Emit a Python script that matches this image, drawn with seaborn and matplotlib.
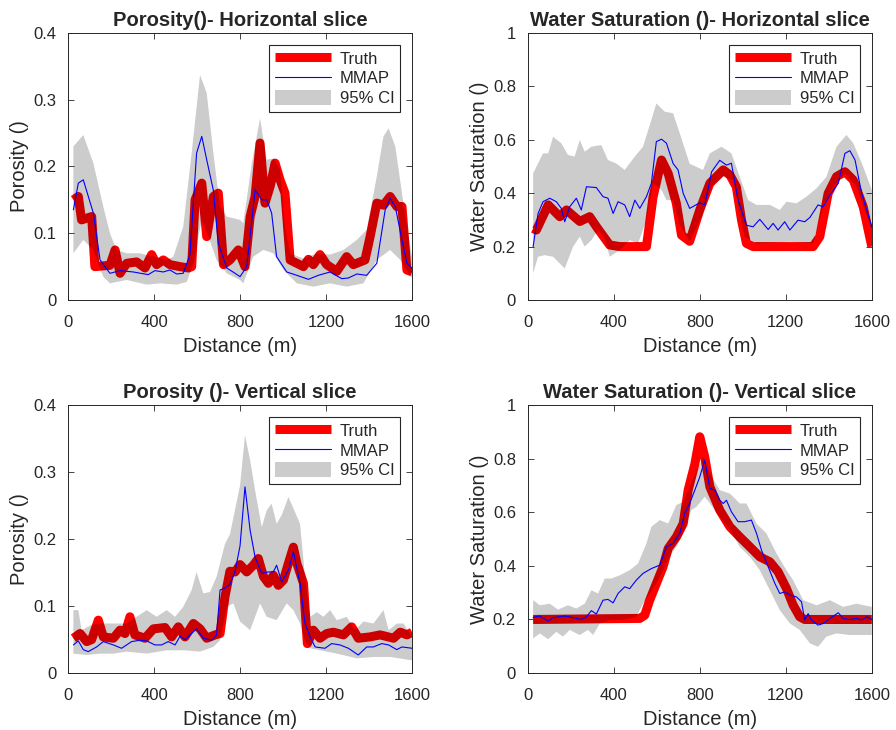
import numpy as np
import pandas as pd
import seaborn as sns
import matplotlib.pyplot as plt
from matplotlib.lines import Line2D
from matplotlib.patches import Patch
from matplotlib.ticker import FuncFormatter

# ---- Porosity, horizontal slice ----
por_h_truth_x = [25, 48, 63, 110, 125, 195, 219, 242, 273, 319, 358, 389, 412, 443, 474, 521, 560, 575, 591, 622,
                 645, 676, 699, 723, 753, 792, 823, 847, 870, 893, 916, 940, 963, 986, 1009, 1033, 1064, 1095, 1118,
                 1141, 1172, 1203, 1250, 1296, 1327, 1381, 1405, 1436, 1467, 1498, 1529, 1553, 1576, 1600]
por_h_truth_y = [.15, .155, .12, .125, .05, .052, .075, .04, .055, .057, .048, .068, .053, .06, .053, .05, .048, .05,
                 .15, .175, .095, .155, .16, .053, .06, .075, .05, .125, .155, .235, .145, .17, .205, .18, .16, .06,
                 .055, .05, .061, .053, .068, .053, .043, .065, .053, .06, .095, .145, .142, .155, .14, .14, .045, .042]
por_h_mmap_x = [25, 48, 71, 118, 149, 195, 242, 304, 373, 404, 443, 474, 505, 536, 567, 598, 622, 645, 676, 699,
                738, 777, 800, 831, 870, 901, 924, 947, 970, 1017, 1064, 1118, 1164, 1219, 1273, 1304, 1343, 1389,
                1436, 1475, 1498, 1522, 1553, 1576, 1600]
por_h_mmap_y = [.135, .175, .18, .13, .06, .04, .044, .042, .038, .044, .042, .045, .039, .04, .068, .22, .245, .21,
                .164, .085, .048, .04, .035, .05, .165, .15, .15, .13, .065, .042, .037, .031, .037, .042, .032, .033,
                .039, .037, .055, .135, .152, .14, .09, .055, .047]
por_h_up_x = [25, 71, 118, 164, 195, 226, 273, 335, 397, 459, 490, 536, 575, 614, 645, 676, 707, 738, 800, 815,
              855, 893, 924, 955, 986, 1009, 1033, 1095, 1157, 1219, 1281, 1343, 1389, 1436, 1467, 1491, 1522, 1553,
              1576, 1600]
por_h_up_y = [.23, .247, .205, .14, .1, .075, .07, .07, .065, .06, .065, .11, .22, .337, .31, .22, .14, .125, .12,
              .115, .205, .272, .21, .212, .195, .11, .07, .062, .07, .068, .075, .09, .105, .185, .245, .257, .23,
              .16, .11, .065]
por_h_lo_x = [25, 71, 118, 164, 195, 273, 366, 428, 505, 552, 583, 622, 653, 691, 738, 800, 815, 862, 908, 955,
              1002, 1064, 1141, 1219, 1296, 1374, 1436, 1498, 1545, 1600]
por_h_lo_y = [.07, .09, .075, .035, .025, .03, .023, .025, .023, .027, .055, .12, .095, .06, .04, .03, .025, .065,
              .075, .07, .045, .025, .02, .025, .02, .025, .06, .075, .06, .033]

# ---- Water saturation, horizontal slice ----
sw_h_truth_x = [25, 40, 95, 149, 180, 242, 288, 319, 381, 428, 505, 552, 583, 622, 653, 691, 715, 753, 800, 847,
                909, 940, 970, 994, 1017, 1048, 1141, 1219, 1327, 1358, 1397, 1436, 1475, 1514, 1560, 1600]
sw_h_truth_y = [.268, .262, .356, .312, .337, .294, .312, .275, .206, .2, .2, .2, .387, .524, .474, .362, .243, .22,
                .337, .437, .487, .468, .424, .3, .212, .2, .2, .2, .2, .237, .399, .462, .48, .449, .349, .2]
sw_h_mmap_x = [25, 48, 71, 102, 133, 156, 172, 195, 226, 249, 273, 319, 350, 373, 397, 420, 451, 474, 498, 521,
               552, 575, 598, 622, 645, 676, 699, 723, 753, 800, 823, 855, 893, 924, 947, 978, 1017, 1048, 1079,
               1118, 1141, 1164, 1195, 1219, 1257, 1288, 1312, 1350, 1374, 1405, 1444, 1475, 1498, 1522, 1553, 1600]
sw_h_mmap_y = [.2, .324, .368, .381, .368, .343, .293, .349, .381, .337, .424, .421, .387, .381, .324, .368, .356,
               .312, .374, .343, .387, .437, .593, .602, .587, .511, .487, .399, .343, .364, .356, .48, .523, .505,
               .512, .374, .28, .274, .302, .264, .287, .262, .293, .262, .299, .293, .309, .356, .349, .393, .437,
               .549, .559, .524, .399, .274]
sw_h_up_x = [25, 71, 95, 118, 156, 187, 218, 242, 265, 296, 342, 373, 412, 451, 498, 536, 575, 598, 637, 676, 707,
             753, 815, 847, 901, 947, 986, 1025, 1064, 1126, 1172, 1203, 1250, 1296, 1343, 1389, 1436, 1482, 1514,
             1560, 1600]
sw_h_up_y = [.474, .549, .549, .611, .587, .543, .537, .599, .555, .574, .58, .524, .511, .487, .537, .574, .674,
             .736, .705, .699, .624, .51, .487, .549, .574, .549, .461, .374, .356, .356, .337, .368, .362, .387,
             .418, .461, .574, .618, .587, .499, .412]
sw_h_lo_x = [25, 48, 78, 118, 172, 211, 242, 265, 296, 327, 358, 381, 428, 474, 513, 552, 583, 622, 645, 676, 707,
             753, 815, 855, 909, 955, 986, 1009, 1064, 1219, 1327, 1374, 1420, 1475, 1529, 1600]
sw_h_lo_y = [.1, .162, .168, .162, .118, .2, .237, .2, .224, .262, .231, .162, .187, .224, .212, .299, .437, .412,
             .374, .374, .28, .22, .324, .424, .461, .449, .324, .237, .212, .218, .212, .349, .424, .474, .424, .262]

# ---- Porosity, vertical slice ----
por_v_truth_x = [25, 56, 87, 110, 141, 164, 211, 242, 265, 288, 311, 358, 397, 451, 482, 513, 544, 583, 614, 645,
                 684, 707, 730, 753, 777, 800, 831, 862, 885, 909, 932, 955, 978, 1002, 1025, 1048, 1064, 1095, 1113,
                 1141, 1172, 1203, 1234, 1281, 1319, 1350, 1405, 1451, 1514, 1545, 1576, 1600]
por_v_truth_y = [.052, .059, .047, .05, .079, .054, .052, .064, .059, .084, .057, .052, .066, .068, .054, .069, .054,
                 .074, .066, .052, .057, .059, .114, .152, .151, .162, .151, .161, .171, .144, .134, .146, .131, .139,
                 .164, .188, .164, .134, .044, .064, .052, .059, .061, .057, .069, .052, .054, .057, .052, .061, .057,
                 .061]
por_v_mmap_x = [25, 48, 71, 94, 133, 164, 211, 249, 296, 335, 366, 404, 435, 466, 498, 521, 544, 598, 629, 668, 691,
                707, 723, 753, 777, 800, 823, 847, 870, 901, 932, 955, 970, 994, 1025, 1048, 1079, 1102, 1126, 1149,
                1195, 1226, 1265, 1304, 1350, 1389, 1420, 1459, 1491, 1529, 1553, 1600]
por_v_mmap_y = [.042, .048, .035, .032, .039, .047, .042, .037, .047, .049, .048, .042, .042, .047, .042, .055, .05,
                .066, .052, .049, .057, .124, .126, .132, .152, .19, .278, .213, .173, .149, .151, .151, .161, .136,
                .154, .181, .134, .074, .054, .039, .037, .044, .042, .037, .027, .039, .039, .044, .042, .035, .039,
                .037]
por_v_up_x = [25, 48, 63, 110, 156, 211, 273, 319, 366, 412, 459, 498, 536, 575, 598, 629, 660, 691, 730, 753, 800,
              823, 847, 870, 901, 924, 947, 970, 994, 1025, 1048, 1079, 1102, 1126, 1157, 1188, 1219, 1250, 1296,
              1335, 1374, 1420, 1467, 1491, 1529, 1560, 1600]
por_v_up_y = [.094, .094, .064, .072, .074, .074, .074, .084, .094, .084, .094, .084, .099, .124, .151, .119, .121,
              .144, .193, .207, .28, .355, .318, .273, .218, .243, .253, .223, .236, .263, .246, .223, .144, .084,
              .091, .084, .094, .079, .084, .064, .077, .074, .094, .064, .074, .074, .054]
por_v_lo_x = [25, 87, 149, 211, 273, 366, 459, 536, 614, 676, 707, 738, 769, 800, 847, 893, 924, 970, 1017, 1048,
              1079, 1102, 1126, 1172, 1250, 1343, 1420, 1498, 1600]
por_v_lo_y = [.029, .027, .029, .029, .032, .029, .034, .034, .032, .039, .049, .099, .104, .077, .064, .104, .084,
              .079, .104, .094, .074, .049, .037, .034, .029, .022, .024, .024, .019]

# ---- Water saturation, vertical slice ----
sw_v_truth_x = [25, 521, 544, 567, 598, 629, 653, 691, 723, 746, 777, 800, 823, 847, 893, 940, 986, 1033, 1079,
                1126, 1164, 1203, 1234, 1265, 1288, 1600]
sw_v_truth_y = [.2, .204, .216, .272, .334, .396, .465, .508, .558, .683, .78, .882, .807, .695, .608, .546, .508,
                .471, .434, .415, .378, .316, .254, .21, .2, .2]
sw_v_mmap_x = [25, 56, 95, 118, 172, 211, 249, 273, 296, 319, 350, 373, 397, 420, 451, 474, 505, 536, 575, 614,
               645, 676, 707, 730, 753, 777, 800, 823, 847, 870, 893, 909, 924, 947, 978, 1009, 1040, 1064, 1087,
               1118, 1149, 1172, 1195, 1219, 1250, 1273, 1288, 1304, 1319, 1350, 1374, 1405, 1444, 1467, 1498,
               1529, 1553, 1576, 1600]
sw_v_mmap_y = [.208, .213, .194, .207, .213, .207, .2, .21, .233, .22, .272, .275, .262, .297, .322, .315, .347,
               .372, .39, .403, .471, .484, .521, .596, .633, .683, .732, .795, .689, .683, .645, .633, .645, .602,
               .565, .565, .571, .521, .459, .397, .335, .297, .303, .291, .284, .266, .198, .222, .198, .179, .185,
               .204, .225, .204, .2, .204, .198, .21, .2]
sw_v_up_x = [25, 56, 102, 141, 187, 226, 265, 296, 327, 358, 389, 428, 474, 513, 552, 575, 614, 653, 691, 723, 753,
             815, 847, 893, 940, 986, 1017, 1064, 1110, 1157, 1203, 1234, 1281, 1343, 1405, 1467, 1529, 1600]
sw_v_up_y = [.272, .253, .259, .237, .253, .241, .259, .309, .297, .353, .353, .365, .384, .409, .484, .546, .571,
             .558, .627, .639, .695, .807, .745, .683, .67, .633, .633, .558, .521, .446, .384, .347, .272, .253,
             .272, .247, .259, .247]
sw_v_lo_x = [25, 56, 95, 133, 164, 195, 242, 280, 304, 335, 381, 443, 505, 536, 567, 598, 629, 660, 691, 723, 761,
             784, 823, 847, 893, 940, 986, 1033, 1079, 1126, 1172, 1219, 1265, 1312, 1350, 1389, 1436, 1498, 1600]
sw_v_lo_y = [.129, .148, .126, .154, .136, .161, .142, .161, .142, .185, .198, .198, .21, .259, .297, .334, .384,
             .434, .471, .521, .608, .62, .658, .633, .583, .534, .471, .434, .384, .309, .235, .185, .161, .111,
             .098, .136, .148, .142, .142]

x_ticks = [0, 400, 800, 1200, 1600]
por_ticks = [0, 0.1, 0.2, 0.3, 0.4]
sw_ticks = [0, 0.2, 0.4, 0.6, 0.8, 1.0]

sns.set_style('ticks')
plt.rcParams['font.family'] = ['Liberation Sans', 'DejaVu Sans']
DARK = '#262626'


def draw_panel(ax, truth, mmap, upper, lower, title, ylabel, yticks):
    t = pd.DataFrame({'x': truth[0], 'y': truth[1]})
    m = pd.DataFrame({'x': mmap[0], 'y': mmap[1]})
    sns.lineplot(data=t, x='x', y='y', ax=ax, color='red', linewidth=6.5, zorder=2,
                 solid_joinstyle='round', solid_capstyle='butt')
    # confidence band laid over the truth line (darkens it like the original)
    xs = np.r_[upper[0], lower[0][::-1]]
    ys = np.r_[upper[1], lower[1][::-1]]
    ax.fill(xs, ys, color='k', alpha=0.2, lw=0, zorder=2.5)
    sns.lineplot(data=m, x='x', y='y', ax=ax, color='blue', linewidth=0.8, zorder=3)

    ax.set_xlim(0, 1600)
    ax.set_ylim(yticks[0], yticks[-1])
    ax.set_xticks(x_ticks)
    ax.set_yticks(yticks)
    ax.yaxis.set_major_formatter(FuncFormatter(lambda v, p: f'{v:g}'))
    ax.tick_params(direction='in', top=True, right=True, labelsize=12, colors=DARK, length=4, width=0.6)
    ax.tick_params(axis='x', pad=10.5)
    ax.tick_params(axis='y', pad=8.5)
    for s in ax.spines.values():
        s.set_color(DARK)
        s.set_linewidth(0.7)
    ax.set_title(title, fontsize=14.5, fontweight='bold', pad=5)
    ax.set_xlabel('Distance (m)', fontsize=14.5, labelpad=5.5)
    ax.set_ylabel(ylabel, fontsize=14.5, labelpad=3)

    handles = [Line2D([], [], color='red', lw=6.5, solid_capstyle='butt'),
               Line2D([], [], color='blue', lw=0.8),
               Patch(facecolor='#cccccc', edgecolor='none')]
    leg = ax.legend(handles, ['Truth', 'MMAP', '95% CI'], loc='upper right', fontsize=12,
                    fancybox=False, framealpha=1, edgecolor=DARK, handlelength=3.4, handleheight=1.0,
                    borderaxespad=0.7, handletextpad=0.5, borderpad=0.35, labelspacing=0.22)
    leg.get_frame().set_linewidth(0.8)


fig = plt.figure(figsize=(8.96, 7.30), dpi=100)
ax1 = fig.add_axes([0.0759, 0.589, 0.384, 0.366])
ax2 = fig.add_axes([0.589, 0.589, 0.384, 0.366])
ax3 = fig.add_axes([0.0759, 0.078, 0.384, 0.367])
ax4 = fig.add_axes([0.589, 0.078, 0.384, 0.367])

draw_panel(ax1, (por_h_truth_x, por_h_truth_y), (por_h_mmap_x, por_h_mmap_y),
           (por_h_up_x, por_h_up_y), (por_h_lo_x, por_h_lo_y),
           'Porosity()- Horizontal slice', 'Porosity ()', por_ticks)
draw_panel(ax2, (sw_h_truth_x, sw_h_truth_y), (sw_h_mmap_x, sw_h_mmap_y),
           (sw_h_up_x, sw_h_up_y), (sw_h_lo_x, sw_h_lo_y),
           'Water Saturation ()- Horizontal slice', 'Water Saturation ()', sw_ticks)
draw_panel(ax3, (por_v_truth_x, por_v_truth_y), (por_v_mmap_x, por_v_mmap_y),
           (por_v_up_x, por_v_up_y), (por_v_lo_x, por_v_lo_y),
           'Porosity ()- Vertical slice', 'Porosity ()', por_ticks)
draw_panel(ax4, (sw_v_truth_x, sw_v_truth_y), (sw_v_mmap_x, sw_v_mmap_y),
           (sw_v_up_x, sw_v_up_y), (sw_v_lo_x, sw_v_lo_y),
           'Water Saturation ()- Vertical slice', 'Water Saturation ()', sw_ticks)

fig.savefig('out.png', dpi=100)
